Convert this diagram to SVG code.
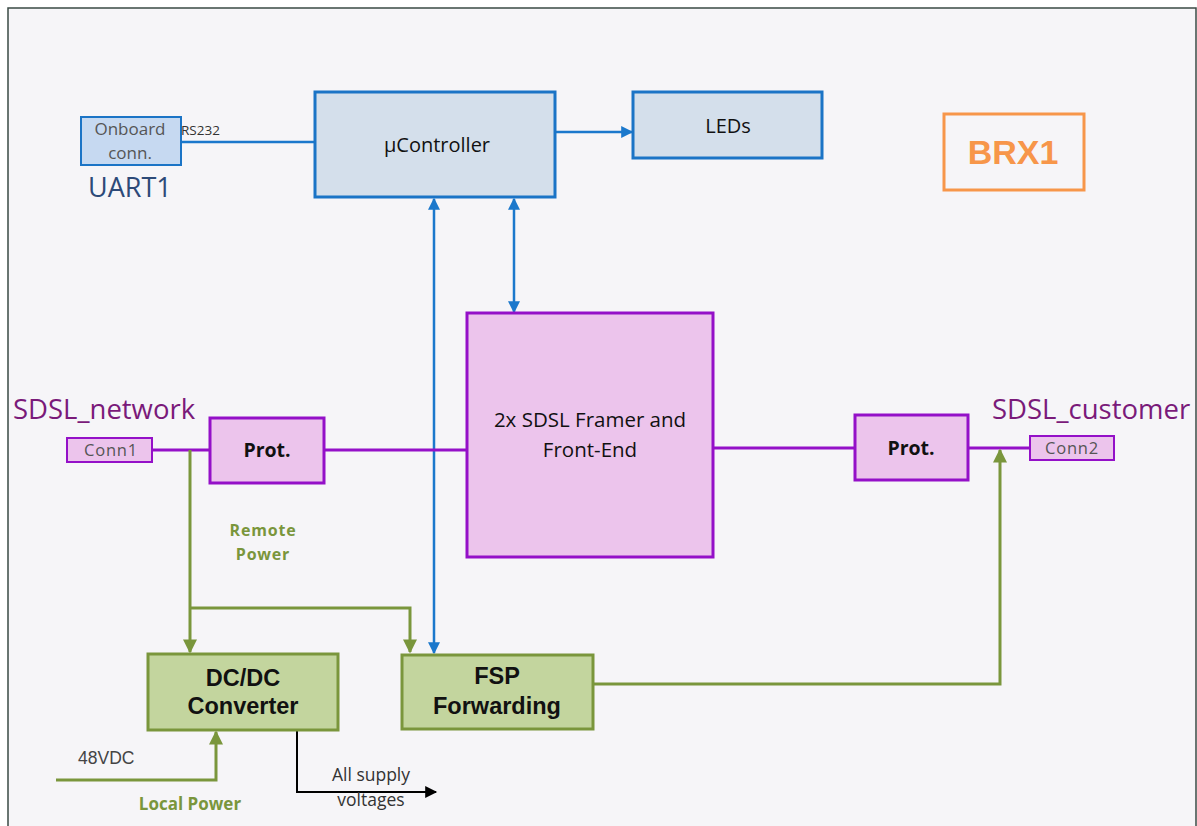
<svg xmlns="http://www.w3.org/2000/svg" width="1197" height="826" viewBox="0 0 1197 826">
<defs>
<style>
.bl{fill:#d4dfeb;stroke:#1b74c6;stroke-width:3}
.pu{fill:#ecc4ec;stroke:#9410c8;stroke-width:3}
.gr{fill:#c3d59e;stroke:#7a963c;stroke-width:3}
.t{font-family:"Open Sans","Liberation Sans",sans-serif;text-anchor:middle}
.b{font-family:"Liberation Sans",Arial,sans-serif;font-weight:bold;text-anchor:middle;fill:#111}
.lb{stroke:#1b78cc;stroke-width:2.5;fill:none}
.lp{stroke:#9410c8;stroke-width:3;fill:none}
.lg{stroke:#7a963c;stroke-width:3;fill:none}
</style>
<marker id="ab2" viewBox="0 0 10 10" refX="9" refY="5" markerWidth="13" markerHeight="12" orient="auto-start-reverse" markerUnits="userSpaceOnUse"><path d="M0,0L10,5L0,10z" fill="#1b78cc"/></marker>
<marker id="ag" viewBox="0 0 10 10" refX="9" refY="5" markerWidth="16" markerHeight="14" orient="auto" markerUnits="userSpaceOnUse"><path d="M0,0L10,5L0,10z" fill="#7a963c"/></marker>
<marker id="ak" viewBox="0 0 10 10" refX="9" refY="5" markerWidth="16" markerHeight="12" orient="auto" markerUnits="userSpaceOnUse"><path d="M0,0L10,5L0,10z" fill="#000"/></marker>
</defs>
<rect x="0" y="0" width="1197" height="826" fill="#ffffff"/>
<rect x="8" y="8" width="1188" height="830" fill="#f6f5f8" stroke="#3a4a44" stroke-width="1.5"/>

<g id="connectors">
<line class="lb" x1="181" y1="142" x2="315" y2="142"/>
<line class="lb" x1="555" y1="132" x2="632" y2="132" marker-end="url(#ab2)"/>
<line class="lb" x1="434" y1="653" x2="434" y2="199" marker-end="url(#ab2)" marker-start="url(#ab2)"/>
<line class="lb" x1="514" y1="199" x2="514" y2="312" marker-end="url(#ab2)" marker-start="url(#ab2)"/>
<line class="lp" x1="152" y1="450" x2="210" y2="450"/>
<line class="lp" x1="324" y1="450" x2="467" y2="450"/>
<line class="lp" x1="713" y1="448" x2="855" y2="448"/>
<line class="lp" x1="968" y1="448" x2="1030" y2="448"/>
<polyline class="lg" points="190,450 190,652" marker-end="url(#ag)"/>
<polyline class="lg" points="190,608 410,608 410,652" marker-end="url(#ag)"/>
<polyline class="lg" points="593,684 1000,684 1000,450" marker-end="url(#ag)"/>
<polyline class="lg" points="56,780 216,780 216,732" marker-end="url(#ag)"/>
<polyline stroke="#000" stroke-width="2" fill="none" points="297,730 297,792 436,792" marker-end="url(#ak)"/>
</g>

<g id="onboard">
<rect x="81" y="117" width="100" height="48" fill="#c6d9f1" stroke="#1b74c6" stroke-width="2"/>
<text class="t" x="130" y="135" font-size="17" fill="#555">Onboard</text>
<text class="t" x="130" y="159" font-size="17" fill="#555">conn.</text>
<text x="181" y="135" font-family="Open Sans,Liberation Sans,sans-serif" font-size="13.5" fill="#333">RS232</text>
<text x="88" y="197" font-family="Open Sans,Liberation Sans,sans-serif" font-size="27" fill="#2d4a78">UART1</text>
</g>
<g id="ucontroller">
<rect class="bl" x="315" y="92" width="240" height="105"/>
<text class="t" x="437" y="152" font-size="20" fill="#111">µController</text>
</g>
<g id="leds">
<rect class="bl" x="633" y="92" width="189" height="66"/>
<text class="t" x="728" y="133" font-size="20" fill="#111">LEDs</text>
</g>
<g id="brx1">
<rect x="944" y="114" width="140" height="76" fill="#f6f5f8" stroke="#f7964a" stroke-width="3"/>
<text x="1013" y="164" font-family="Liberation Sans,Arial,sans-serif" font-weight="bold" font-size="34" fill="#f7964a" text-anchor="middle">BRX1</text>
</g>
<g id="framer">
<rect class="pu" x="467" y="313" width="246" height="244"/>
<text class="t" x="590" y="427" font-size="20.5" fill="#111">2x SDSL Framer and</text>
<text class="t" x="590" y="457" font-size="20.5" fill="#111">Front-End</text>
</g>
<g id="conn1">
<text x="13" y="419" font-family="Open Sans,Liberation Sans,sans-serif" font-size="27.5" fill="#7a1a7a">SDSL_network</text>
<rect x="67" y="438" width="85" height="24" fill="#ecc4ec" stroke="#9410c8" stroke-width="2"/>
<text class="t" x="111" y="456" font-size="16.5" fill="#555" letter-spacing="0.8">Conn1</text>
</g>
<g id="prot1">
<rect class="pu" x="210" y="418" width="114" height="65"/>
<text class="t" x="267" y="457" font-size="19.5" font-weight="bold" fill="#111">Prot.</text>
</g>
<g id="prot2">
<rect class="pu" x="855" y="415" width="113" height="65"/>
<text class="t" x="911" y="455" font-size="19.5" font-weight="bold" fill="#111">Prot.</text>
</g>
<g id="conn2">
<text x="992" y="419" font-family="Open Sans,Liberation Sans,sans-serif" font-size="27.5" fill="#7a1a7a">SDSL_customer</text>
<rect x="1030" y="436" width="84" height="24" fill="#ecc4ec" stroke="#9410c8" stroke-width="2"/>
<text class="t" x="1072" y="454" font-size="16.5" fill="#555" letter-spacing="0.8">Conn2</text>
</g>
<g id="remotepower">
<text class="t" x="263" y="536" font-size="16" font-weight="bold" fill="#7a963c" letter-spacing="0.8">Remote</text>
<text class="t" x="263" y="560" font-size="16" font-weight="bold" fill="#7a963c" letter-spacing="0.8">Power</text>
</g>
<g id="dcdc">
<rect class="gr" x="148" y="654" width="190" height="76"/>
<text class="b" x="243" y="686" font-size="23.5">DC/DC</text>
<text class="b" x="243" y="714" font-size="23.5">Converter</text>
</g>
<g id="fsp">
<rect class="gr" x="402" y="655" width="191" height="74"/>
<text class="b" x="497" y="684" font-size="23.5">FSP</text>
<text class="b" x="497" y="714" font-size="23.5">Forwarding</text>
</g>
<g id="localpower">
<text x="78" y="764" font-family="Liberation Sans,Arial,sans-serif" font-size="17.5" fill="#444">48VDC</text>
<text class="t" x="190" y="810" font-size="17" font-weight="bold" fill="#7a963c">Local Power</text>
</g>
<g id="supply">
<text class="t" x="371" y="781" font-size="17.5" fill="#333">All supply</text>
<text class="t" x="371" y="806" font-size="17.5" fill="#333">voltages</text>
</g>
</svg>
